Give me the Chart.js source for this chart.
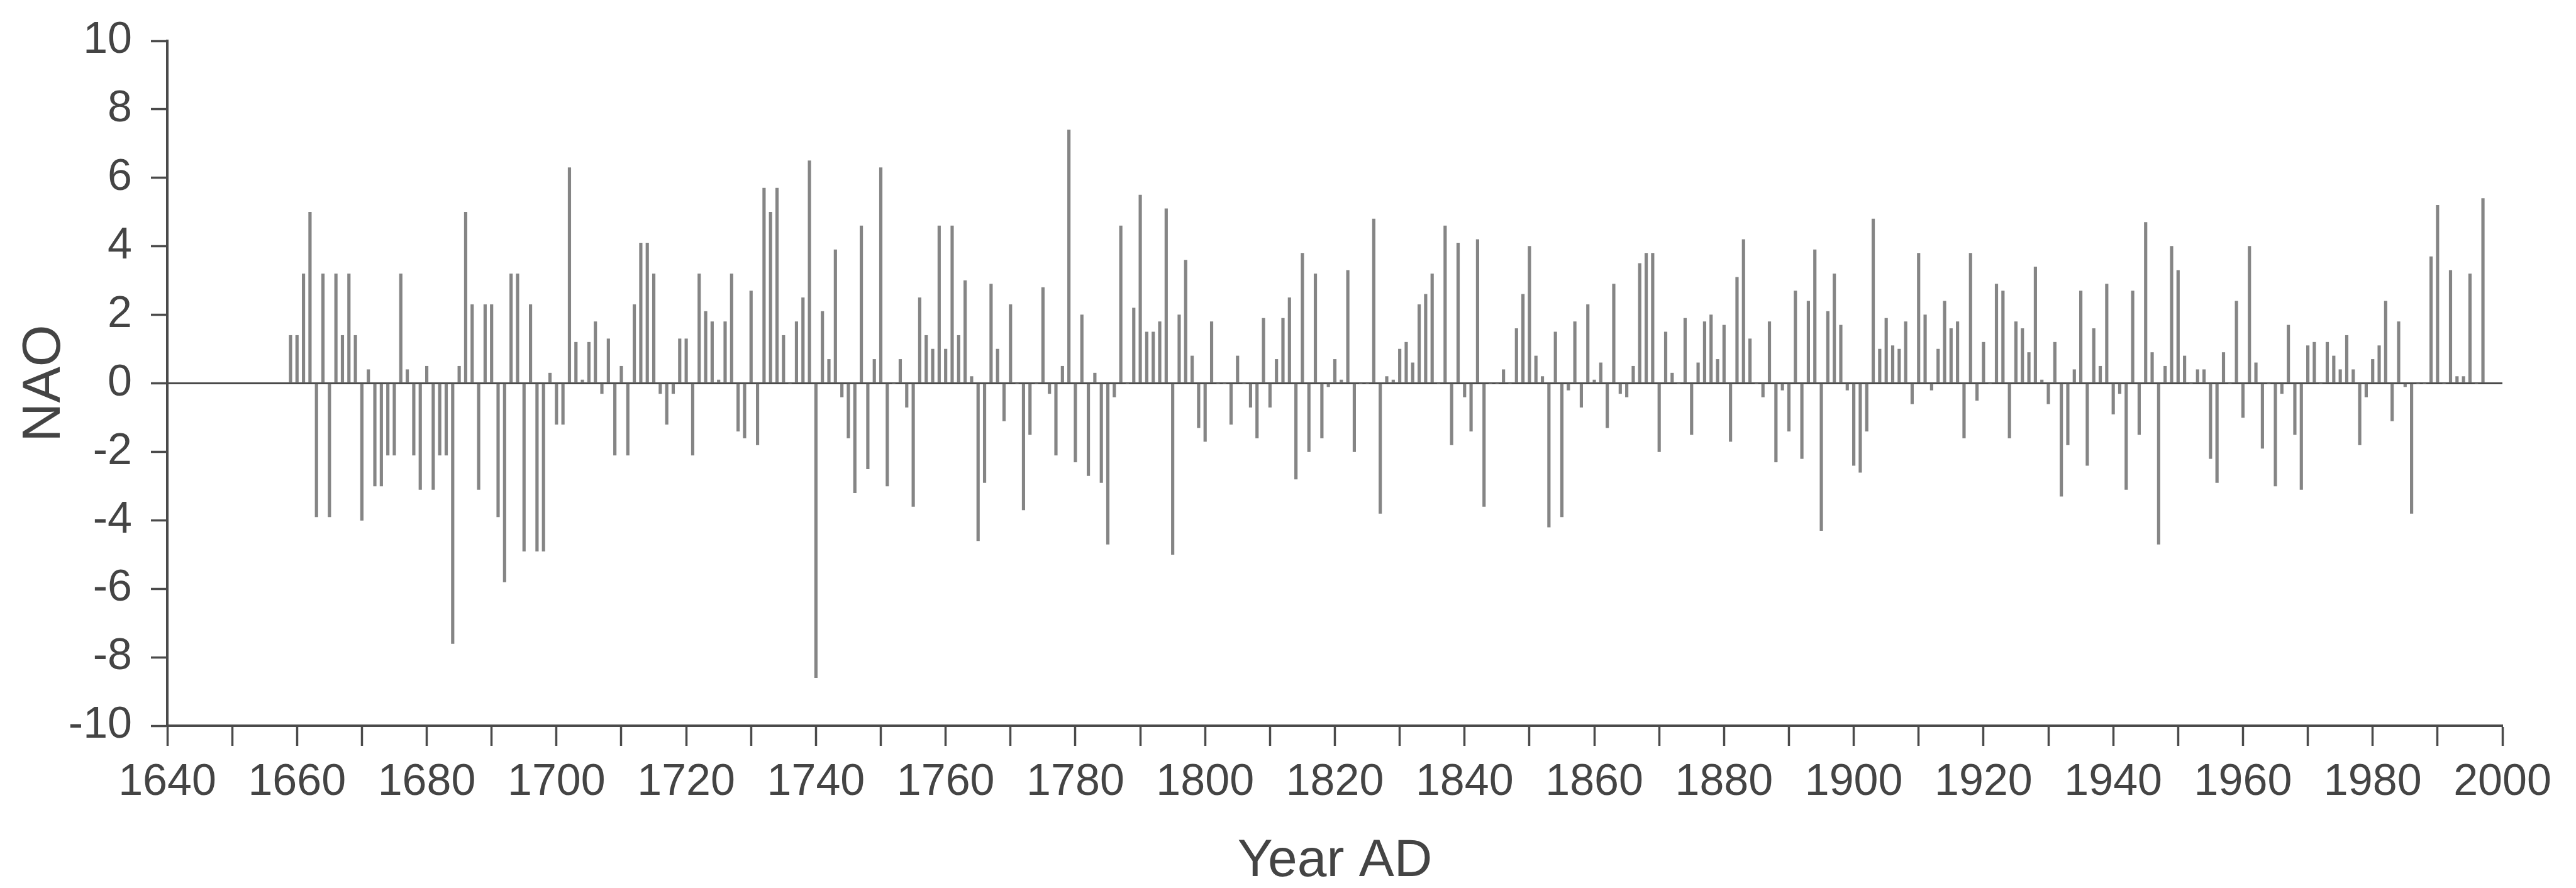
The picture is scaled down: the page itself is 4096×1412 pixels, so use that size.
<!DOCTYPE html>
<html>
<head>
<meta charset="utf-8">
<title>NAO reconstruction</title>
<script src="https://cdn.jsdelivr.net/npm/chart.js@4.4.1/dist/chart.umd.min.js"></script>
<style>
  html, body { margin: 0; padding: 0; background: #fff; }
  #wrap { width: 4096px; height: 1412px; position: relative; }
</style>
</head>
<body>
<div id="wrap"><canvas id="nao-chart"></canvas></div>
<script>
// winter NAO index, one value per year, starting 1659
const firstYear = 1659;

const nao1659to1699 = [
  1.4, 1.4, 3.2, 5.0, -3.9, 3.2, -3.9, 3.2, 1.4, 3.2,
  1.4, -4.0, 0.4, -3.0, -3.0, -2.1, -2.1, 3.2, 0.4, -2.1,
  -3.1, 0.5, -3.1, -2.1, -2.1, -7.6, 0.5, 5.0, 2.3, -3.1,
  2.3, 2.3, -3.9, -5.8, 3.2, 3.2, -4.9, 2.3, -4.9, -4.9,
  0.3
];
const nao1700to1749 = [
  -1.2, -1.2, 6.3, 1.2, 0.1, 1.2, 1.8, -0.3, 1.3, -2.1,
  0.5, -2.1, 2.3, 4.1, 4.1, 3.2, -0.3, -1.2, -0.3, 1.3,
  1.3, -2.1, 3.2, 2.1, 1.8, 0.1, 1.8, 3.2, -1.4, -1.6,
  2.7, -1.8, 5.7, 5.0, 5.7, 1.4, 0, 1.8, 2.5, 6.5,
  -8.6, 2.1, 0.7, 3.9, -0.4, -1.6, -3.2, 4.6, -2.5, 0.7
];
const nao1750to1799 = [
  6.3, -3.0, 0, 0.7, -0.7, -3.6, 2.5, 1.4, 1.0, 4.6,
  1.0, 4.6, 1.4, 3.0, 0.2, -4.6, -2.9, 2.9, 1.0, -1.1,
  2.3, 0, -3.7, -1.5, 0, 2.8, -0.3, -2.1, 0.5, 7.4,
  -2.3, 2.0, -2.7, 0.3, -2.9, -4.7, -0.4, 4.6, 0, 2.2,
  5.5, 1.5, 1.5, 1.8, 5.1, -5.0, 2.0, 3.6, 0.8, -1.3
];
const nao1800to1849 = [
  -1.7, 1.8, 0, 0, -1.2, 0.8, 0, -0.7, -1.6, 1.9,
  -0.7, 0.7, 1.9, 2.5, -2.8, 3.8, -2.0, 3.2, -1.6, -0.1,
  0.7, 0.1, 3.3, -2.0, 0, 0, 4.8, -3.8, 0.2, 0.1,
  1.0, 1.2, 0.6, 2.3, 2.6, 3.2, 0, 4.6, -1.8, 4.1,
  -0.4, -1.4, 4.2, -3.6, 0, 0, 0.4, 0, 1.6, 2.6
];
const nao1850to1899 = [
  4.0, 0.8, 0.2, -4.2, 1.5, -3.9, -0.2, 1.8, -0.7, 2.3,
  0.1, 0.6, -1.3, 2.9, -0.3, -0.4, 0.5, 3.5, 3.8, 3.8,
  -2.0, 1.5, 0.3, 0, 1.9, -1.5, 0.6, 1.8, 2.0, 0.7,
  1.7, -1.7, 3.1, 4.2, 1.3, 0, -0.4, 1.8, -2.3, -0.2,
  -1.4, 2.7, -2.2, 2.4, 3.9, -4.3, 2.1, 3.2, 1.7, -0.2
];
const nao1900to1949 = [
  -2.4, -2.6, -1.4, 4.8, 1.0, 1.9, 1.1, 1.0, 1.8, -0.6,
  3.8, 2.0, -0.2, 1.0, 2.4, 1.6, 1.8, -1.6, 3.8, -0.5,
  1.2, 0, 2.9, 2.7, -1.6, 1.8, 1.6, 0.9, 3.4, 0.1,
  -0.6, 1.2, -3.3, -1.8, 0.4, 2.7, -2.4, 1.6, 0.5, 2.9,
  -0.9, -0.3, -3.1, 2.7, -1.5, 4.7, 0.9, -4.7, 0.5, 4.0
];
const nao1950to1997 = [
  3.3, 0.8, 0, 0.4, 0.4, -2.2, -2.9, 0.9, 0, 2.4,
  -1.0, 4.0, 0.6, -1.9, 0, -3.0, -0.3, 1.7, -1.5, -3.1,
  1.1, 1.2, 0, 1.2, 0.8, 0.4, 1.4, 0.4, -1.8, -0.4,
  0.7, 1.1, 2.4, -1.1, 1.8, -0.1, -3.8, 0, 0, 3.7,
  5.2, 0, 3.3, 0.2, 0.2, 3.2, 0, 5.4
];

// labelled years on the x axis (minor ticks every 10 years)
const yearLabels = [1640, 1660, 1680, 1700, 1720, 1740, 1760, 1780, 1800,
  1820, 1840, 1860, 1880, 1900, 1920, 1940, 1960, 1980, 2000];
const yTicks = [-10, -8, -6, -4, -2, 0, 2, 4, 6, 8, 10];

const nao = [].concat(nao1659to1699, nao1700to1749, nao1750to1799,
  nao1800to1849, nao1850to1899, nao1900to1949, nao1950to1997);
const points = nao.map((v, i) => ({x: firstYear + i, y: v}));

const ink = '#444444';
const axisInk = '#4a4a4a';
const barGray = '#858585';
const fontFamily = '"Liberation Sans", Arial, Helvetica, sans-serif';

const ctx = document.querySelector('#nao-chart').getContext('2d');

new Chart(ctx, {
  type: 'bar',
  data: {
    datasets: [{
      label: 'NAO',
      data: points,
      backgroundColor: barGray,
      borderWidth: 0,
      barThickness: 4.5,
      grouped: false
    }]
  },
  options: {
    responsive: true,
    maintainAspectRatio: false,
    devicePixelRatio: 1,
    animation: false,
    layout: {padding: {left: 0, top: 56, right: 117, bottom: 0}},
    plugins: {
      legend: {display: false},
      tooltip: {enabled: false}
    },
    scales: {
      x: {
        type: 'linear',
        min: 1640,
        max: 2000,
        offset: false,
        afterFit: scale => { scale.height = 258; },
        border: {display: true, color: axisInk, width: 4},
        grid: {
          offset: false,
          drawOnChartArea: false,
          drawTicks: true,
          tickLength: 32,
          tickColor: axisInk,
          tickWidth: 3.5
        },
        ticks: {
          stepSize: 10,
          autoSkip: false,
          maxRotation: 0,
          padding: 24,
          color: ink,
          font: {family: fontFamily, size: 70, lineHeight: 1},
          callback: v => yearLabels.includes(v) ? String(v) : ''
        },
        title: {
          display: true,
          text: 'Year AD',
          color: ink,
          font: {family: fontFamily, size: 84, lineHeight: 1},
          padding: {top: 0, bottom: 0}
        }
      },
      y: {
        min: -10,
        max: 10,
        afterFit: scale => { scale.width = 266; },
        afterBuildTicks: scale => { scale.ticks = yTicks.map(v => ({value: v})); },
        border: {display: true, color: axisInk, width: 4},
        grid: {
          drawOnChartArea: true,
          color: c => (c.tick && c.tick.value === 0) ? axisInk : 'rgba(0,0,0,0)',
          lineWidth: 3,
          drawTicks: true,
          tickLength: 26,
          tickColor: axisInk,
          tickWidth: 3.5
        },
        ticks: {
          padding: 30,
          color: ink,
          font: {family: fontFamily, size: 70, lineHeight: 1},
          callback: v => String(v)
        },
        title: {
          display: true,
          text: 'NAO',
          color: ink,
          font: {family: fontFamily, size: 86, lineHeight: 1},
          padding: {top: 28, bottom: 0}
        }
      }
    }
  }
});
</script>
</body>
</html>
